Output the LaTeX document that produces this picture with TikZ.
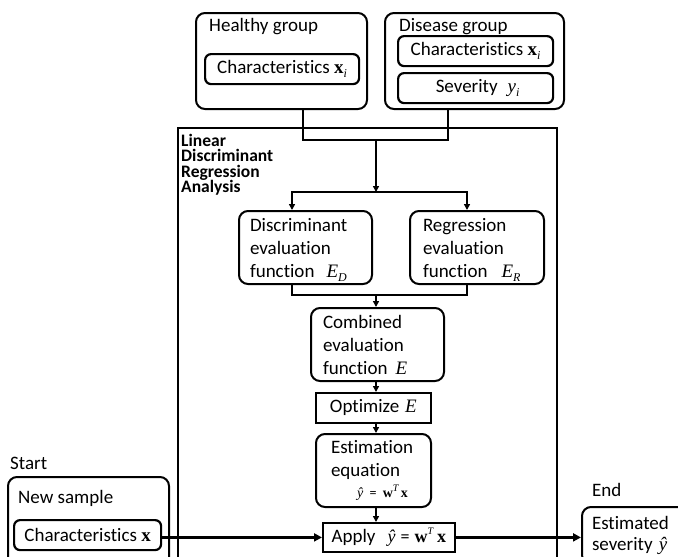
\documentclass[tikz,border=0pt]{standalone}
\usepackage{fontspec}
\setmainfont{Carlito}[Ligatures={NoCommon}]
\newfontfamily\tnr{Liberation Serif}
\usetikzlibrary{arrows.meta}
\newcommand{\vb}[1]{{\tnr\bfseries #1}}
\newcommand{\vi}[1]{{\tnr\itshape #1}}
\newcommand{\mysub}[1]{\raisebox{-0.2em}{\tnr\itshape\fontsize{12}{12}\selectfont #1}}
\newcommand{\mysup}[1]{\raisebox{0.45em}{\tnr\itshape\fontsize{10}{10}\selectfont #1}}
\newcommand{\tightlines}{\lineskiplimit=-10pt\relax}
\newcommand{\downstrut}{\rule{0pt}{18.5pt}}
\begin{document}
\begin{tikzpicture}[x=1pt,y=-1pt,
  every node/.style={font=\fontsize{19}{23}\selectfont},
  rbox/.style={draw, line width=2pt, rounded corners=9pt, anchor=north west},
  tbox/.style={rbox, align=left, inner ysep=0pt},
  sbox/.style={draw, line width=1.8pt, anchor=north west, inner sep=0pt},
  ttl/.style={anchor=base west, inner sep=0pt},
  conn/.style={line width=1.5pt},
  arr/.style={line width=1.5pt, -{Triangle[length=6pt,width=6pt]}},
  darr/.style={line width=1.5pt, {Triangle[length=6pt,width=6pt]}-{Triangle[length=6pt,width=6pt]}},
  tarr/.style={line width=2.6pt, -{Triangle[length=8pt,width=8pt]}}]
\useasboundingbox (0,0) rectangle (678,557);

% input groups
\node[rbox, minimum width=171pt, minimum height=96pt, inner sep=0pt] (hg) at (195,12) {};
\node[ttl] (hgt) at (209,31) {Healthy group};
\node[rbox, line width=2.2pt, rounded corners=6pt, minimum width=154pt, minimum height=30pt, inner sep=0pt] (hgc) at (204,53) {Characteristics \vb{x}\mysub{i}};

\node[rbox, minimum width=179pt, minimum height=96pt, inner sep=0pt] (dg) at (384,12) {};
\node[ttl] (dgt) at (399,31) {Disease group};
\node[rbox, line width=2.2pt, rounded corners=6pt, minimum width=155pt, minimum height=30pt, inner sep=0pt] (dgc) at (397,35) {Characteristics \vb{x}\mysub{i}};
\node[rbox, line width=2.2pt, rounded corners=6pt, minimum width=155pt, minimum height=30pt, inner sep=0pt] (dgs) at (397,72) {\hspace*{4pt}Severity\hspace{10pt}\vi{y}\mysub{i}};

% frame
\node[draw, line width=1.5pt, anchor=north west, minimum width=379pt, minimum height=450pt, inner sep=0pt] (frame) at (177,127) {};
\node[anchor=north west, align=left, inner sep=0pt, font=\bfseries\fontsize{17.5}{15.5}\selectfont\tightlines] (ldal) at (181,134) {Linear\\Discriminant\\Regression\\Analysis};

% evaluation functions
\node[tbox, text width=111pt, inner xsep=11pt, minimum height=73pt] (dis) at (238,210) {\downstrut Discriminant\\evaluation\\function\hspace{12pt}\vi{E}\mysub{D}};
\node[tbox, text width=108pt, inner xsep=13pt, minimum height=73pt] (reg) at (409,210) {\downstrut Regression\\evaluation\\function\hspace{14pt}\vi{E}\mysub{R}};
\node[tbox, text width=109pt, inner xsep=12pt, minimum height=73pt] (comb) at (310,307) {Combined\\evaluation\\function\hspace{8pt}\vi{E}};
\node[sbox, minimum width=115pt, minimum height=30pt] (opt) at (315,392) {Optimize\hspace{6pt}\vi{E}};
\node[tbox, text width=85pt, inner xsep=15pt, minimum height=73pt] (est) at (315,433) {Estimation\\equation\\[-2pt]\hspace*{26pt}{\fontsize{14}{16}\selectfont\vi{ŷ} = \vb{w}\mysup{T}\,\vb{x}}};
\node[sbox, minimum width=132pt, minimum height=29pt] (apply) at (322,522) {Apply\hspace{12pt}{\fontsize{18}{19}\selectfont\vi{ŷ}\hspace{5pt}=\hspace{5pt}\vb{w}\mysup{T}\hspace{4pt}\vb{x}}};

% new sample
\node[ttl] (start) at (10,469) {Start};
\node[rbox, minimum width=161pt, minimum height=100pt, inner sep=0pt] (ns) at (7,476) {};
\node[ttl] (nst) at (18,503) {New sample};
\node[rbox, line width=2.2pt, rounded corners=6pt, minimum width=147pt, minimum height=30pt, inner sep=0pt] (nsc) at (13,519) {Characteristics \vb{x}};

% result
\node[ttl] (endl) at (592,496) {End};
\node[tbox, text width=84pt, inner xsep=10pt, minimum height=57pt, font=\fontsize{19}{21}\selectfont] (res) at (581,506) {Estimated\\severity \vi{ŷ}};

% helper coordinates
\coordinate (hx) at (303,0);
\coordinate (dx) at (448,0);
\coordinate (mx) at (376,0);
\coordinate (lx) at (292,0);
\coordinate (rx) at (467,0);
\coordinate (jy) at (0,140);
\coordinate (sy) at (0,192);
\coordinate (by) at (0,295);

% connectors
\draw[conn] (hg.south -| hx) -- (hx |- jy) -- (dx |- jy) -- (dg.south -| dx);
\draw[arr] (mx |- jy) -- (mx |- sy);
\draw[darr] (dis.north -| lx) -- (lx |- sy) -- (rx |- sy) -- (reg.north -| rx);
\draw[conn] (dis.south -| lx) -- (lx |- by) -- (rx |- by) -- (reg.south -| rx);
\draw[arr] (mx |- by) -- (comb.north -| mx);
\draw[arr] (comb.south -| mx) -- (opt.north -| mx);
\draw[arr] (opt.south -| mx) -- (est.north -| mx);
\draw[arr] (est.south -| mx) -- (apply.north -| mx);
\draw[tarr] (nsc.east |- apply.west) -- (apply.west);
\draw[tarr] (apply.east) -- (res.west |- apply.east);
\end{tikzpicture}
\end{document}
